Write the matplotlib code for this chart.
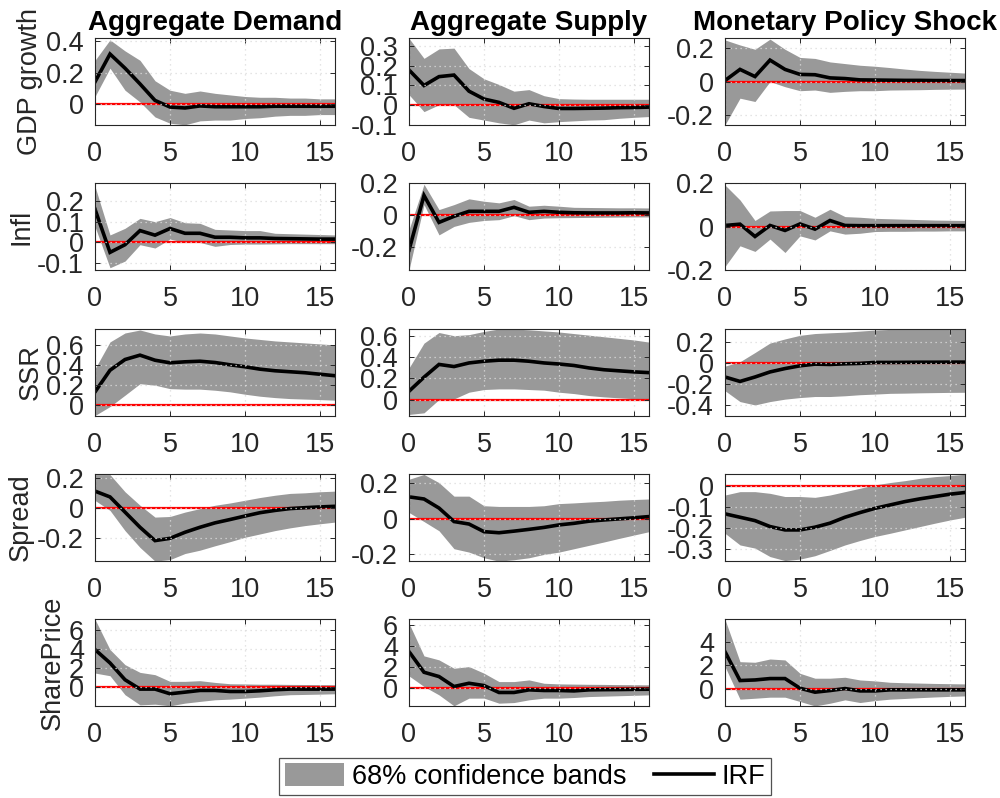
import matplotlib
matplotlib.use('Agg')
import matplotlib.pyplot as plt
from matplotlib.ticker import FuncFormatter
from matplotlib.patches import Patch
from matplotlib.lines import Line2D

plt.rcParams['font.family'] = ['Liberation Sans', 'DejaVu Sans']

horizon = list(range(17))
shocks = ['Aggregate Demand', 'Aggregate Supply', 'Monetary Policy Shock']
variables = ['GDP growth', 'Infl', 'SSR', 'Spread', 'SharePrice']

# --- Aggregate Demand ---
gdp_ad_irf = [0.143, 0.32, 0.23, 0.13, 0.025, -0.017, -0.023, -0.01, -0.015, -0.015, -0.015, -0.015, -0.012, -0.012, -0.012, -0.012, -0.012]
gdp_ad_hi = [0.28, 0.41, 0.34, 0.28, 0.15, 0.09, 0.07, 0.085, 0.07, 0.06, 0.05, 0.045, 0.045, 0.04, 0.04, 0.035, 0.035]
gdp_ad_lo = [0.05, 0.23, 0.09, 0.015, -0.08, -0.12, -0.13, -0.105, -0.1, -0.1, -0.09, -0.085, -0.075, -0.07, -0.07, -0.065, -0.065]
infl_ad_irf = [0.16, -0.048, -0.011, 0.057, 0.035, 0.067, 0.044, 0.044, 0.025, 0.025, 0.022, 0.022, 0.019, 0.018, 0.017, 0.016, 0.016]
infl_ad_hi = [0.27, 0.036, 0.068, 0.116, 0.1, 0.12, 0.095, 0.092, 0.063, 0.06, 0.057, 0.057, 0.044, 0.042, 0.04, 0.038, 0.036]
infl_ad_lo = [0.076, -0.122, -0.09, -0.011, -0.027, 0.016, 0.0, 0.0, -0.019, -0.01, -0.008, -0.008, -0.007, -0.006, -0.006, -0.006, -0.006]
ssr_ad_irf = [0.127, 0.345, 0.453, 0.497, 0.446, 0.42, 0.43, 0.436, 0.423, 0.40, 0.38, 0.356, 0.34, 0.33, 0.32, 0.305, 0.29]
ssr_ad_hi = [0.36, 0.63, 0.72, 0.75, 0.71, 0.69, 0.71, 0.72, 0.71, 0.69, 0.67, 0.655, 0.64, 0.63, 0.62, 0.61, 0.60]
ssr_ad_lo = [-0.11, -0.02, 0.094, 0.21, 0.195, 0.16, 0.155, 0.155, 0.144, 0.128, 0.104, 0.084, 0.07, 0.06, 0.055, 0.05, 0.044]
spread_ad_irf = [0.111, 0.073, -0.027, -0.127, -0.215, -0.2, -0.16, -0.127, -0.098, -0.076, -0.053, -0.031, -0.016, -0.004, 0.002, 0.007, 0.011]
spread_ad_hi = [0.22, 0.22, 0.107, 0.018, -0.06, -0.056, -0.027, -0.004, 0.018, 0.033, 0.051, 0.069, 0.084, 0.096, 0.1, 0.107, 0.111]
spread_ad_lo = [0.05, -0.016, -0.149, -0.26, -0.35, -0.34, -0.3, -0.278, -0.249, -0.222, -0.193, -0.171, -0.149, -0.131, -0.116, -0.104, -0.093]
share_ad_irf = [3.93, 2.53, 0.77, -0.21, -0.21, -0.7, -0.53, -0.35, -0.35, -0.46, -0.46, -0.39, -0.28, -0.21, -0.21, -0.21, -0.21]
share_ad_hi = [7.1, 3.93, 2.35, 1.54, 1.3, 0.6, 0.6, 0.67, 0.49, 0.35, 0.33, 0.3, 0.3, 0.28, 0.27, 0.26, 0.25]
share_ad_lo = [1.47, 1.19, -0.8, -1.86, -1.79, -1.96, -1.68, -1.5, -1.33, -1.26, -1.16, -1.05, -0.91, -0.8, -0.77, -0.74, -0.7]

# --- Aggregate Supply ---
gdp_as_irf = [0.179, 0.1, 0.145, 0.153, 0.071, 0.031, 0.014, -0.016, 0.007, -0.007, -0.017, -0.017, -0.016, -0.015, -0.013, -0.012, -0.01]
gdp_as_hi = [0.34, 0.238, 0.286, 0.29, 0.186, 0.134, 0.105, 0.071, 0.079, 0.048, 0.033, 0.031, 0.03, 0.03, 0.03, 0.03, 0.03]
gdp_as_lo = [0.053, -0.033, 0.002, 0.002, -0.062, -0.076, -0.09, -0.1, -0.076, -0.09, -0.084, -0.08, -0.076, -0.074, -0.067, -0.062, -0.058]
infl_as_irf = [-0.217, 0.124, -0.044, -0.006, 0.025, 0.025, 0.025, 0.05, 0.019, 0.025, 0.019, 0.016, 0.015, 0.015, 0.015, 0.016, 0.015]
infl_as_hi = [-0.09, 0.194, 0.036, 0.067, 0.103, 0.088, 0.078, 0.099, 0.057, 0.063, 0.057, 0.05, 0.049, 0.048, 0.047, 0.047, 0.046]
infl_as_lo = [-0.34, 0.067, -0.122, -0.069, -0.044, -0.032, -0.027, -0.002, -0.027, -0.017, -0.015, -0.014, -0.013, -0.012, -0.011, -0.01, -0.01]
ssr_as_irf = [0.078, 0.21, 0.33, 0.31, 0.344, 0.36, 0.37, 0.37, 0.36, 0.344, 0.334, 0.32, 0.297, 0.28, 0.27, 0.26, 0.253]
ssr_as_hi = [0.297, 0.53, 0.63, 0.6, 0.61, 0.64, 0.663, 0.663, 0.655, 0.645, 0.635, 0.62, 0.605, 0.59, 0.575, 0.56, 0.54]
ssr_as_lo = [-0.14, -0.125, 0.0, 0.006, 0.069, 0.094, 0.1, 0.1, 0.094, 0.088, 0.069, 0.056, 0.0375, 0.025, 0.016, 0.008, 0.0]
spread_as_irf = [0.124, 0.112, 0.061, -0.015, -0.029, -0.072, -0.078, -0.069, -0.059, -0.048, -0.034, -0.025, -0.013, -0.006, 0.0, 0.006, 0.013]
spread_as_hi = [0.223, 0.25, 0.204, 0.128, 0.128, 0.074, 0.07, 0.07, 0.07, 0.074, 0.086, 0.09, 0.095, 0.099, 0.105, 0.109, 0.112]
spread_as_lo = [0.036, -0.015, -0.067, -0.168, -0.187, -0.219, -0.238, -0.23, -0.219, -0.2, -0.187, -0.168, -0.149, -0.13, -0.11, -0.091, -0.072]
share_as_irf = [3.46, 1.49, 1.08, 0.13, 0.44, 0.22, -0.44, -0.44, -0.19, -0.25, -0.25, -0.29, -0.19, -0.17, -0.16, -0.14, -0.13]
share_as_hi = [6.16, 3.05, 2.67, 1.87, 2.03, 1.4, 0.6, 0.6, 0.76, 0.44, 0.38, 0.36, 0.34, 0.33, 0.31, 0.3, 0.29]
share_as_lo = [1.14, 0.13, -0.67, -1.71, -0.98, -0.98, -1.46, -1.4, -1.14, -0.98, -0.98, -0.92, -0.83, -0.79, -0.75, -0.71, -0.67]

# --- Monetary Policy Shock ---
gdp_mp_irf = [0.006, 0.073, 0.03, 0.129, 0.073, 0.043, 0.041, 0.022, 0.018, 0.01, 0.009, 0.008, 0.007, 0.007, 0.006, 0.006, 0.006]
gdp_mp_hi = [0.25, 0.22, 0.194, 0.255, 0.194, 0.145, 0.139, 0.118, 0.108, 0.098, 0.092, 0.084, 0.075, 0.067, 0.061, 0.056, 0.051]
gdp_mp_lo = [-0.26, -0.1, -0.12, 0.0, -0.031, -0.055, -0.051, -0.065, -0.059, -0.055, -0.055, -0.051, -0.05, -0.049, -0.047, -0.046, -0.045]
infl_mp_irf = [0.005, 0.011, -0.046, 0.005, -0.018, 0.012, -0.012, 0.028, 0.005, 0.004, 0.004, 0.004, 0.004, 0.004, 0.004, 0.004, 0.004]
infl_mp_hi = [0.192, 0.123, 0.028, 0.072, 0.074, 0.074, 0.043, 0.08, 0.046, 0.043, 0.038, 0.036, 0.034, 0.032, 0.03, 0.029, 0.028]
infl_mp_lo = [-0.185, -0.089, -0.115, -0.058, -0.12, -0.043, -0.062, -0.02, -0.035, -0.031, -0.023, -0.022, -0.022, -0.021, -0.021, -0.02, -0.02]
ssr_mp_irf = [-0.135, -0.177, -0.135, -0.087, -0.055, -0.029, -0.013, -0.016, -0.01, -0.006, 0.003, 0.003, 0.004, 0.005, 0.005, 0.006, 0.006]
ssr_mp_hi = [-0.032, 0.01, 0.097, 0.187, 0.226, 0.26, 0.277, 0.284, 0.29, 0.3, 0.31, 0.316, 0.318, 0.32, 0.32, 0.32, 0.32]
ssr_mp_lo = [-0.265, -0.368, -0.4, -0.368, -0.345, -0.33, -0.32, -0.32, -0.313, -0.303, -0.297, -0.29, -0.288, -0.285, -0.283, -0.281, -0.28]
spread_mp_irf = [-0.132, -0.148, -0.164, -0.192, -0.208, -0.208, -0.195, -0.176, -0.148, -0.126, -0.106, -0.09, -0.074, -0.061, -0.05, -0.039, -0.031]
spread_mp_hi = [-0.043, -0.027, -0.027, -0.035, -0.05, -0.05, -0.054, -0.043, -0.027, -0.011, 0.005, 0.016, 0.025, 0.036, 0.044, 0.049, 0.055]
spread_mp_lo = [-0.224, -0.279, -0.294, -0.334, -0.353, -0.346, -0.33, -0.305, -0.279, -0.258, -0.239, -0.224, -0.208, -0.192, -0.176, -0.161, -0.148]
share_mp_irf = [3.17, 0.69, 0.74, 0.86, 0.86, 0.03, -0.31, -0.17, 0.0, -0.2, -0.2, -0.11, -0.11, -0.11, -0.11, -0.11, -0.11]
share_mp_hi = [5.94, 2.31, 2.26, 2.54, 2.46, 1.31, 0.89, 0.89, 0.97, 0.74, 0.66, 0.54, 0.5, 0.47, 0.44, 0.42, 0.4]
share_mp_lo = [1.89, -0.91, -0.83, -0.74, -0.74, -1.11, -1.49, -1.26, -0.97, -1.2, -1.03, -0.91, -0.85, -0.78, -0.72, -0.67, -0.63]

panels = [
    [(gdp_ad_irf, gdp_ad_lo, gdp_ad_hi), (gdp_as_irf, gdp_as_lo, gdp_as_hi), (gdp_mp_irf, gdp_mp_lo, gdp_mp_hi)],
    [(infl_ad_irf, infl_ad_lo, infl_ad_hi), (infl_as_irf, infl_as_lo, infl_as_hi), (infl_mp_irf, infl_mp_lo, infl_mp_hi)],
    [(ssr_ad_irf, ssr_ad_lo, ssr_ad_hi), (ssr_as_irf, ssr_as_lo, ssr_as_hi), (ssr_mp_irf, ssr_mp_lo, ssr_mp_hi)],
    [(spread_ad_irf, spread_ad_lo, spread_ad_hi), (spread_as_irf, spread_as_lo, spread_as_hi), (spread_mp_irf, spread_mp_lo, spread_mp_hi)],
    [(share_ad_irf, share_ad_lo, share_ad_hi), (share_as_irf, share_as_lo, share_as_hi), (share_mp_irf, share_mp_lo, share_mp_hi)],
]

# axis limits / ticks
ylims = [
    [(-0.13, 0.42), (-0.1, 0.34), (-0.26, 0.26)],
    [(-0.132, 0.285), (-0.34, 0.2), (-0.2, 0.2)],
    [(-0.11, 0.76), (-0.15, 0.663), (-0.5, 0.32)],
    [(-0.348, 0.222), (-0.236, 0.251), (-0.354, 0.055)],
    [(-1.96, 7.1), (-1.71, 6.54), (-1.48, 5.95)],
]
yticks = [
    [[0, 0.2, 0.4], [-0.1, 0, 0.1, 0.2, 0.3], [-0.2, 0, 0.2]],
    [[-0.1, 0, 0.1, 0.2], [-0.2, 0, 0.2], [-0.2, 0, 0.2]],
    [[0, 0.2, 0.4, 0.6], [0, 0.2, 0.4, 0.6], [-0.4, -0.2, 0, 0.2]],
    [[-0.2, 0, 0.2], [-0.2, 0, 0.2], [-0.3, -0.2, -0.1, 0]],
    [[0, 2, 4, 6], [0, 2, 4, 6], [0, 2, 4]],
]

band_col = '#999999'
txt_col = '#262626'
W, H = 1000, 798
col_left = [95, 409, 725]
row_top = [38.3, 183.3, 329, 474.3, 619.3]
ax_w, ax_h = 240, 86.5

fig = plt.figure(figsize=(10, 7.98), dpi=100)
fmt = FuncFormatter(lambda v, p: f'{v + 0:g}')

for r in range(5):
    for c in range(3):
        irf, lo, hi = panels[r][c]
        ax = fig.add_axes([col_left[c] / W, 1 - (row_top[r] + ax_h) / H, ax_w / W, ax_h / H])
        ax.fill_between(horizon, lo, hi, color=band_col, lw=0, zorder=1)
        ax.axhline(0, color='#ff0000', lw=1.6, zorder=1.5)
        ax.plot(horizon, irf, color='black', lw=2.6, zorder=2, solid_joinstyle='miter')
        ax.set_xlim(0, 16)
        ax.set_ylim(*ylims[r][c])
        ax.set_xticks([0, 5, 10, 15])
        ax.set_yticks(yticks[r][c])
        ax.yaxis.set_major_formatter(fmt)
        ax.set_axisbelow(False)
        ax.grid(True, color='#dcdcdc', linestyle=(0, (1, 3)), lw=0.9)
        ax.tick_params(direction='in', top=True, right=True, length=3.5, width=0.7,
                       labelsize=19.5, colors=txt_col)
        ax.tick_params(axis='x', pad=12)
        ax.tick_params(axis='y', pad=8)
        for s in ax.spines.values():
            s.set_color(txt_col)
            s.set_linewidth(0.8)
            s.set_zorder(3)
        if r == 0:
            ax.set_title(shocks[c], fontsize=20, fontweight='bold', pad=6)
        if c == 0:
            ax.set_ylabel(variables[r], fontsize=19.5, color=txt_col, labelpad=2)

handles = [Patch(facecolor=band_col, edgecolor='none'), Line2D([0], [0], color='black', lw=2.6)]
leg = fig.legend(handles, ['68% confidence bands', 'IRF'], loc='lower center', ncol=2,
                 bbox_to_anchor=(0.525, 0.0), fontsize=19.5, frameon=True, fancybox=False,
                 handlelength=2.2, handleheight=0.9, handletextpad=0.3, columnspacing=1.0,
                 borderpad=0.2, borderaxespad=0.1)
leg.get_frame().set_edgecolor(txt_col)
leg.get_frame().set_linewidth(0.9)

fig.savefig('out.png', dpi=100)
